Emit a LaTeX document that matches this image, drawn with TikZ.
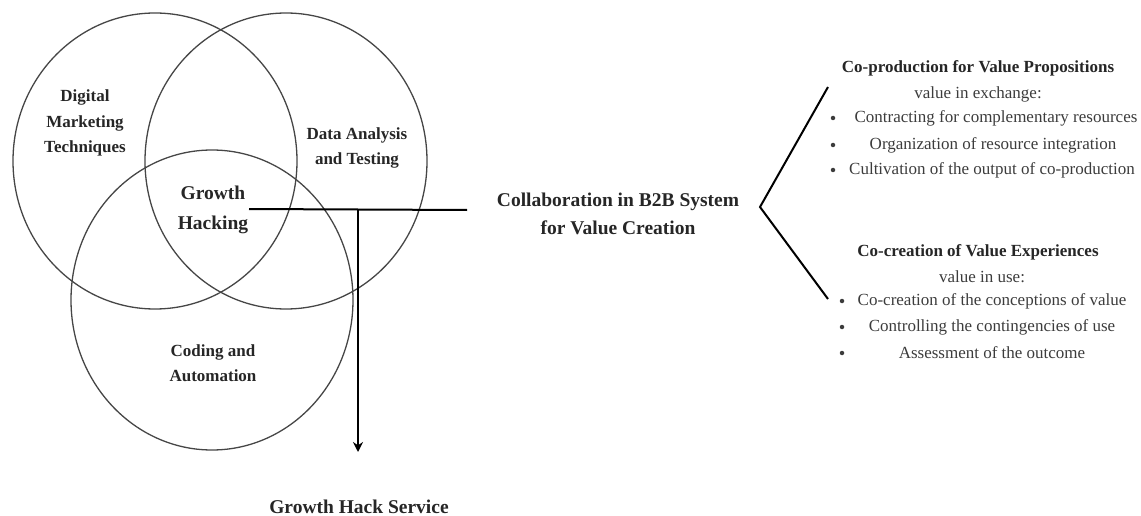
\documentclass[tikz,border=0pt]{standalone}
\usepackage{fontspec}
\setmainfont{Liberation Serif}
\usetikzlibrary{arrows.meta}
\definecolor{circ}{RGB}{70,70,70}
\definecolor{txt}{RGB}{60,60,60}
\begin{document}
\begin{tikzpicture}[x=1pt,y=-1pt,
  venn/.style={draw=circ,line width=1.3pt},
  conn/.style={draw=black,line width=2pt},
  lbl/.style={font=\bfseries\fontsize{17}{25.5}\selectfont,align=center,text=black!85},
  biglbl/.style={font=\bfseries\fontsize{19.5}{30}\selectfont,align=center,text=black!85},
  head/.style={font=\bfseries\fontsize{17}{18}\selectfont,text=black!85},
  body/.style={font=\fontsize{17}{18}\selectfont,text=txt},
  bul/.style={circle,fill=txt,inner sep=0pt,minimum size=4.5pt}]
\useasboundingbox (0,0) rectangle (1141,516);
% Venn circles
\draw[venn] (155,161) ellipse [x radius=142, y radius=148];
\draw[venn] (286,161) ellipse [x radius=141, y radius=148];
\draw[venn] (212,300) ellipse [x radius=141, y radius=150];
% circle labels
\node[lbl] (dm) at (85,123) {Digital\\Marketing\\Techniques};
\node[lbl] (da) at (357,148) {Data Analysis\\and Testing};
\node[biglbl] (gh) at (213,210) {Growth\\Hacking};
\node[lbl] (ca) at (213,363) {Coding and\\Automation};
% central text
\node[biglbl,font=\bfseries\fontsize{19.5}{28}\selectfont] (collab) at (618,214) {Collaboration in B2B System\\for Value Creation};
\node[biglbl] (ghs) at (359,507) {Growth Hack Service};
% connectors
\coordinate (hl) at (249,209);
\coordinate (hr) at (467,210);
\coordinate (tj) at (358,210);
\coordinate (tip) at (358,452);
\draw[conn] (hl) -- (hr);
\draw[conn,-{Stealth[length=10pt,width=10pt]}] (tj) -- (tip);
% bracket
\coordinate (bt) at (828,87);
\coordinate (ba) at (760,207);
\coordinate (bb) at (828,299);
\draw[conn,line join=miter] (bt) -- (ba) -- (bb);
% upper block
\node[head] (cp) at (978,68) {Co-production for Value Propositions};
\node[body] (vx) at (978,94) {value in exchange:};
\node[bul] (b1) at (833,118) {};
\node[bul] (b2) at (833,145) {};
\node[bul] (b3) at (833,170) {};
\node[body] (t1) at (996,118) {Contracting for complementary resources};
\node[body] (t2) at (993,145) {Organization of resource integration};
\node[body] (t3) at (992,170) {Cultivation of the output of co-production};
% lower block
\node[head] (cc) at (978,252) {Co-creation of Value Experiences};
\node[body] (vu) at (982,277) {value in use:};
\node[bul] (b4) at (842,301) {};
\node[bul] (b5) at (842,327) {};
\node[bul] (b6) at (842,353) {};
\node[body] (t4) at (992,301) {Co-creation of the conceptions of value};
\node[body] (t5) at (992,327) {Controlling the contingencies of use};
\node[body] (t6) at (992,353) {Assessment of the outcome};
\end{tikzpicture}
\end{document}
